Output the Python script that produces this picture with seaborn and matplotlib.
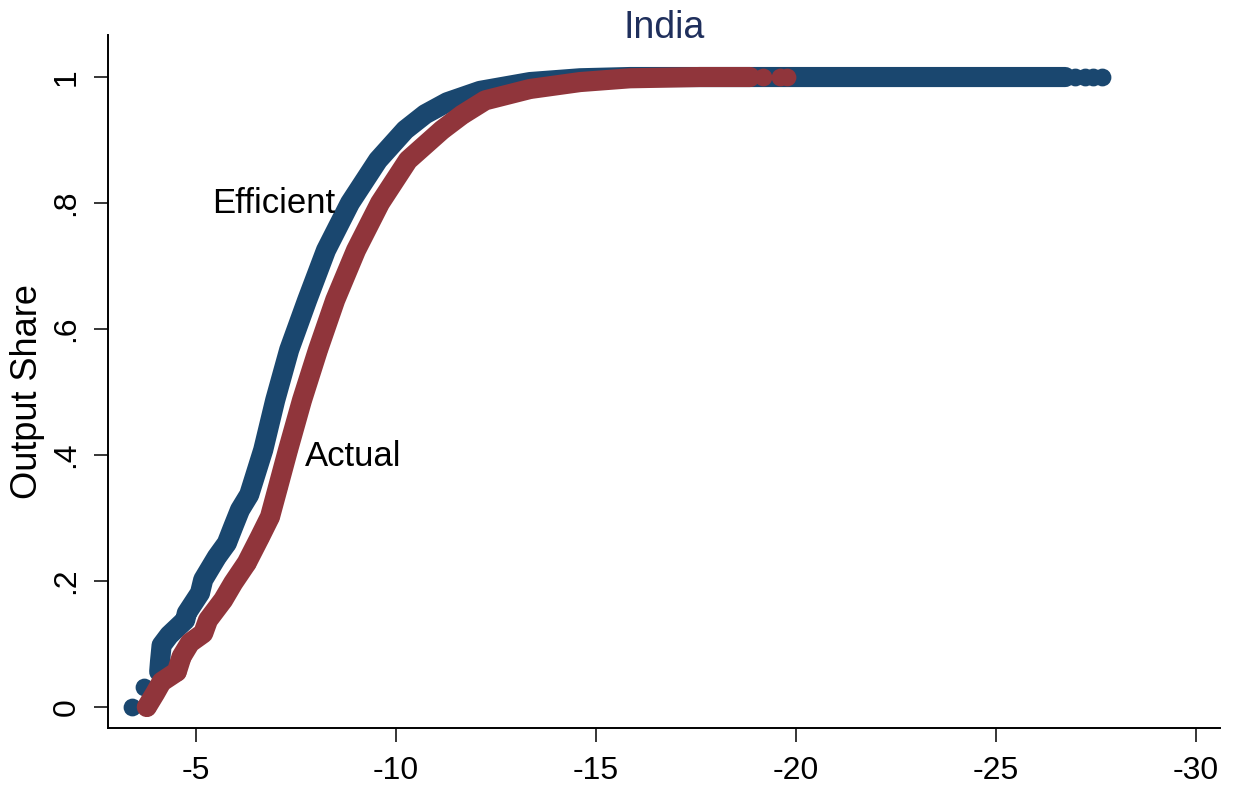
import matplotlib
matplotlib.use("Agg")
import matplotlib.pyplot as plt
import pandas as pd
import seaborn as sns

# Output share against productivity, efficient vs actual allocation
eff_x = [-3.39, -3.70, -4.08, -4.10, -4.14, -4.33, -4.73, -4.77, -5.10, -5.18,
         -5.52, -5.77, -5.93, -6.10, -6.33, -6.68, -6.98, -7.33, -7.78, -8.25,
         -8.85, -9.55, -10.23, -10.73, -11.28, -12.10, -13.35, -14.60, -15.85,
         -26.73, -26.98, -27.23, -27.43, -27.65]
eff_y = [0.000, 0.032, 0.056, 0.072, 0.098, 0.114, 0.138, 0.149, 0.181, 0.202,
         0.238, 0.260, 0.286, 0.313, 0.337, 0.408, 0.487, 0.567, 0.646, 0.725,
         0.800, 0.868, 0.916, 0.941, 0.960, 0.978, 0.992, 0.998, 1.000,
         1.000, 1.000, 1.000, 1.000, 1.000]

act_x = [-3.77, -3.98, -4.14, -4.52, -4.64, -4.85, -5.18, -5.30, -5.68, -5.93,
         -6.27, -6.60, -6.85, -7.05, -7.30, -7.65, -8.05, -8.48, -9.00, -9.60,
         -10.30, -11.15, -11.65, -12.23, -13.35, -14.60, -15.85, -17.60,
         -18.85, -19.18, -19.60, -19.78]
act_y = [0.000, 0.022, 0.040, 0.056, 0.080, 0.102, 0.117, 0.138, 0.170, 0.197,
         0.229, 0.270, 0.302, 0.349, 0.408, 0.487, 0.567, 0.646, 0.725, 0.800,
         0.868, 0.916, 0.940, 0.963, 0.981, 0.992, 0.998, 1.000,
         1.000, 1.000, 1.000, 1.000]

x_ticks = [-5, -10, -15, -20, -25, -30]
x_tick_labels = ["-5", "-10", "-15", "-20", "-25", "-30"]
y_ticks = [0, 0.2, 0.4, 0.6, 0.8, 1.0]
y_tick_labels = ["0", ".2", ".4", ".6", ".8", "1"]

BLUE = "#1a476f"
RED = "#90353b"
TITLE = "#1f2f5c"

eff = pd.DataFrame({"x": eff_x, "y": eff_y})
act = pd.DataFrame({"x": act_x, "y": act_y})

sns.set_theme(style="white")
plt.rcParams["font.family"] = ["Liberation Sans", "DejaVu Sans"]

W, H = 1238, 790
fig = plt.figure(figsize=(W / 100, H / 100), dpi=100)
ax = fig.add_axes([108 / W, 62 / H, 1112 / W, 693 / H])

dot_pt = 12.8   # single marker diameter in points
band_pt = 14.5  # width of the dense run of overlapping markers
# (data, colour, first dense point, number of sparse trailing points, layer)
for df, color, start, tail, z in [(eff, BLUE, 2, 4, 2), (act, RED, 0, 3, 3)]:
    sns.lineplot(data=df.iloc[start:len(df) - tail], x="x", y="y", sort=False,
                 estimator=None, color=color, linewidth=band_pt, ax=ax,
                 solid_capstyle="round", solid_joinstyle="round", zorder=z)
    sns.scatterplot(data=df, x="x", y="y", color=color, s=dot_pt ** 2,
                    linewidth=0, ax=ax, zorder=z + 0.1)

ax.set_xlim(-2.8, -30.6)
ax.set_ylim(-0.0333, 1.0667)

ax.set_xticks(x_ticks)
ax.set_xticklabels(x_tick_labels)
ax.set_yticks(y_ticks)
ax.set_yticklabels(y_tick_labels, rotation=90, va="center")
ax.tick_params(axis="both", which="major", bottom=True, left=True,
               direction="out", length=10, width=1.1, color="black",
               labelsize=23, labelcolor="black")
ax.tick_params(axis="x", pad=10)
ax.tick_params(axis="y", pad=9)

for side in ["top", "right"]:
    ax.spines[side].set_visible(False)
for side in ["left", "bottom"]:
    ax.spines[side].set_color("black")
    ax.spines[side].set_linewidth(1.4)

ax.set_xlabel("")
ax.set_ylabel("Output Share", fontsize=26, color="black", va="center")
ax.yaxis.set_label_coords(-0.072, 0.485)

ax.text(-5.4, 0.8, "Efficient", ha="left", va="center", fontsize=25,
        color="black", zorder=5)
ax.text(-7.72, 0.397, "Actual", ha="left", va="center", fontsize=25,
        color="black", zorder=5)

fig.text(664 / W, 1 - 28 / H, "India", ha="center", va="center",
         fontsize=27, color=TITLE)

fig.savefig("out.png", dpi=100, facecolor="white")
